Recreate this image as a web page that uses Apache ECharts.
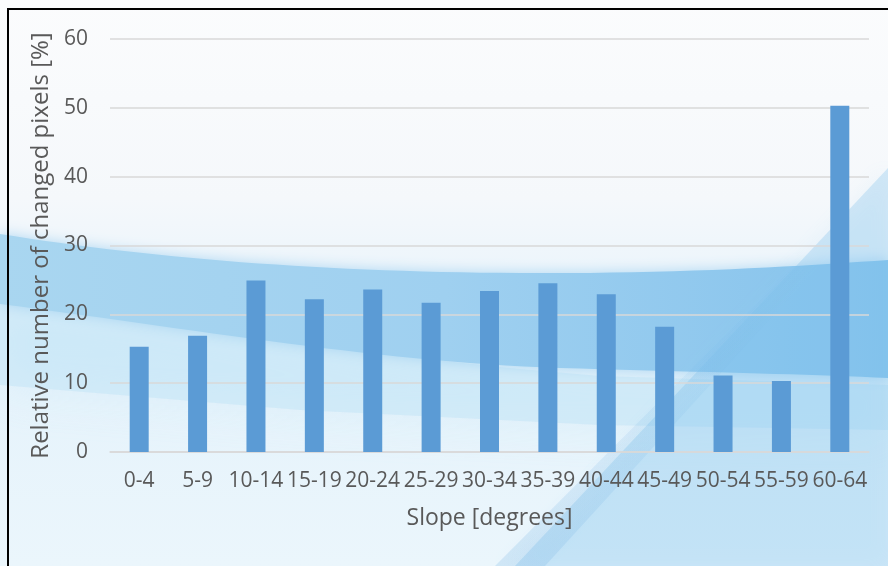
<!DOCTYPE html>
<html>
<head>
<meta charset="utf-8">
<script src="https://cdn.jsdelivr.net/npm/echarts@6/dist/echarts.min.js"></script>
<style>
  html, body { margin: 0; padding: 0; background: #ffffff; }
  #chart { width: 888px; height: 566px; }
</style>
</head>
<body>
<div id="chart"></div>
<script>
// Slope classes (degrees)
const slopeClasses = ['0-4', '5-9', '10-14', '15-19', '20-24', '25-29', '30-34',
  '35-39', '40-44', '45-49', '50-54', '55-59', '60-64'];
// Share of changed pixels per slope class (%)
const changedPixels = [15.3, 16.9, 24.9, 22.2, 23.6, 21.7, 23.4, 24.5, 22.9, 18.2, 11.1, 10.3, 50.3];
// Value axis range
const yMin = 0, yMax = 60, yStep = 10;

const textColor = '#595959';
const fontFamily = '"Open Sans", "Noto Sans", sans-serif';

// Sample a cubic Bezier segment into points (for the decorative backdrop shapes)
function bezier(p0, p1, p2, p3, n) {
  const pts = [];
  for (let i = 0; i <= n; i++) {
    const t = i / n, u = 1 - t;
    pts.push([
      u * u * u * p0[0] + 3 * u * u * t * p1[0] + 3 * u * t * t * p2[0] + t * t * t * p3[0],
      u * u * u * p0[1] + 3 * u * u * t * p1[1] + 3 * u * t * t * p2[1] + t * t * t * p3[1]
    ]);
  }
  return pts;
}

const chart = echarts.init(document.getElementById('chart'), null, { renderer: 'canvas' });

const swooshUpper = bezier([0, 234], [150, 258], [320, 272], [520, 273], 30)
  .concat(bezier([520, 273], [680, 274], [800, 266], [888, 260], 20));
const swooshLower = bezier([888, 378], [800, 374], [700, 372], [560, 368], 20)
  .concat(bezier([560, 368], [380, 362], [200, 330], [0, 304], 30));

const paleUpper = bezier([0, 296], [200, 330], [400, 360], [600, 376], 30)
  .concat([[888, 385]]);
const paleLower = [[888, 430], [600, 425], [300, 410], [0, 385]];

// Decorative backdrop: soft gradient with blue swooshes
const backdrop = [
  {
    type: 'rect', z: -100, silent: true,
    shape: { x: 0, y: 0, width: 888, height: 566 },
    style: {
      fill: new echarts.graphic.LinearGradient(0, 0, 0, 1, [
        { offset: 0, color: '#fbfcfd' },
        { offset: 0.35, color: '#f5f8fb' },
        { offset: 0.6, color: '#e4f2fb' },
        { offset: 1, color: '#ebf6fc' }
      ])
    }
  },
  {
    type: 'polygon', z: -90, silent: true,
    shape: { points: paleUpper.concat(paleLower) },
    style: { fill: 'rgba(185,224,246,0.4)', shadowBlur: 50, shadowColor: 'rgba(185,224,246,0.6)' }
  },
  {
    type: 'polygon', z: -80, silent: true,
    shape: { points: swooshUpper.concat(swooshLower) },
    style: {
      fill: new echarts.graphic.LinearGradient(0, 0, 1, 0, [
        { offset: 0, color: '#a9d6f0' },
        { offset: 0.5, color: '#9fd0f0' },
        { offset: 1, color: '#86c3ec' }
      ]),
      shadowBlur: 14, shadowColor: 'rgba(160,208,240,0.8)'
    }
  },
  {
    type: 'polygon', z: -70, silent: true,
    shape: { points: [[515, 566], [888, 168], [888, 566]] },
    style: { fill: 'rgba(125,192,236,0.3)', shadowBlur: 20, shadowColor: 'rgba(125,192,236,0.3)' }
  },
  {
    type: 'polygon', z: -65, silent: true,
    shape: { points: [[495, 566], [790, 270], [815, 270], [545, 566]] },
    style: {
      fill: new echarts.graphic.LinearGradient(0, 1, 1, 0, [
        { offset: 0, color: 'rgba(110,175,225,0.22)' },
        { offset: 0.6, color: 'rgba(110,175,225,0.1)' },
        { offset: 1, color: 'rgba(110,175,225,0)' }
      ]),
      shadowBlur: 16, shadowColor: 'rgba(110,175,225,0.12)'
    }
  },
  {
    // chart frame
    type: 'rect', z: 100, silent: true,
    shape: { x: 8, y: 9, width: 1000, height: 1000 },
    style: { fill: 'none', stroke: '#000000', lineWidth: 2 }
  }
];

chart.setOption({
  animation: false,
  backgroundColor: 'transparent',
  graphic: { elements: backdrop },
  grid: { left: 110, right: 19, top: 39, bottom: 114, containLabel: false },
  xAxis: {
    type: 'category',
    data: slopeClasses,
    name: 'Slope [degrees]',
    nameLocation: 'middle',
    nameGap: 55,
    nameTextStyle: { color: textColor, fontSize: 23, fontFamily: fontFamily },
    axisLine: { show: true, lineStyle: { color: '#d9d9d9', width: 1.5 } },
    axisTick: { show: false },
    axisLabel: { color: textColor, fontSize: 21, fontFamily: fontFamily, margin: 19, interval: 0 }
  },
  yAxis: {
    type: 'value',
    min: yMin, max: yMax, interval: yStep,
    name: 'Relative number of changed pixels [%]',
    nameLocation: 'middle',
    nameGap: 57,
    nameTextStyle: { color: textColor, fontSize: 24, fontFamily: fontFamily },
    axisLine: { show: false },
    axisTick: { show: false },
    axisLabel: { color: textColor, fontSize: 21, fontFamily: fontFamily, margin: 22 },
    splitLine: { lineStyle: { color: '#d9d9d9', width: 1.5 } }
  },
  series: [{
    type: 'bar',
    data: changedPixels,
    barWidth: 19,
    itemStyle: { color: '#5b9bd5' }
  }]
});
</script>
</body>
</html>
